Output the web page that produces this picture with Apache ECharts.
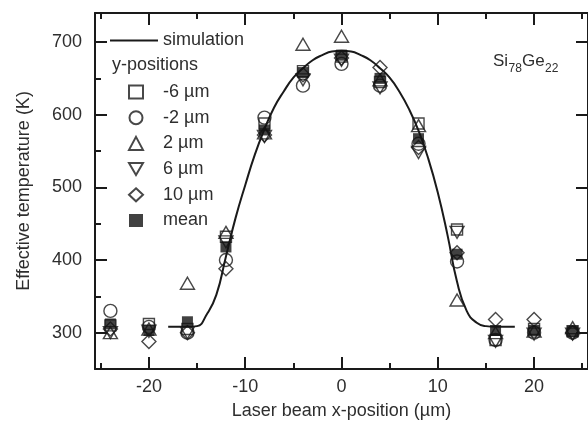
<!DOCTYPE html>
<html>
<head>
<meta charset="utf-8">
<script src="https://cdn.jsdelivr.net/npm/echarts@6/dist/echarts.min.js"></script>
<style>
  html, body { margin: 0; padding: 0; background: #fff; }
  #chart { width: 588px; height: 433px; }
</style>
</head>
<body>
<div id="chart"></div>
<script>
// measurement positions (µm)
const xPos = [-24, -20, -16, -12, -8, -4, 0, 4, 8, 12, 16, 20, 24]

// effective temperature (K) for each y-position
const yMinus6 = [310, 312, 305, 432, 588, 660, 680, 645, 588, 442, 290, 305, 302]
const yMinus2 = [330, 308, 300, 400, 596, 640, 670, 640, 560, 398, 290, 300, 300]
const yPlus2 = [300, 305, 368, 438, 575, 697, 708, 648, 585, 345, 300, 302, 307]
const yPlus6 = [300, 302, 300, 425, 570, 648, 675, 637, 548, 438, 288, 298, 298]
const yPlus10 = [305, 288, 300, 388, 572, 655, 678, 665, 555, 410, 318, 318, 300]
const yMean = [312, 303, 315, 418, 579, 658, 682, 650, 567, 408, 303, 303, 302]

// simulation curve
const simX = [-18, -16, -15, -14, -13, -12, -11, -10, -9, -8, -7, -6, -5, -4, -3, -2, -1, 0,
  1, 2, 3, 4, 5, 6, 7, 8, 9, 10, 11, 12, 13, 14, 15, 16, 18]
const simY = [308, 308, 309, 325, 352, 405, 458, 503, 545, 580, 610, 632, 651, 664, 675, 682, 687, 688,
  687, 682, 675, 664, 651, 632, 608, 578, 540, 493, 435, 370, 330, 314, 309, 308, 308]

const xMajor = [-20, -10, 0, 10, 20]
const xMinor = [-25, -15, -5, 5, 15, 25]
const yMajor = [300, 400, 500, 600, 700]
const yMinor = [350, 450, 550, 650]

const font = 'Liberation Sans'
const ink = '#1a1a1a'
const textColor = '#2e2e2e'

const chart = echarts.init(document.getElementById('chart'))

const pts = vals => xPos.map((x, i) => [x, vals[i]])
const openStyle = {
  color: 'rgba(255,255,255,0)',
  borderColor: ink,
  borderWidth: 1.4,
}
const tickLine = { color: ink, width: 2 }

const xBase = {
  type: 'value',
  min: -25.6,
  max: 25.6,
  splitLine: { show: false },
  axisLine: { show: false, onZero: false },
  axisLabel: { show: false },
}
const yBase = {
  type: 'value',
  min: 250,
  max: 740,
  splitLine: { show: false },
  axisLine: { show: false, onZero: false },
  axisLabel: { show: false },
}
const shownLine = { show: true, onZero: false, lineStyle: tickLine }

chart.setOption({
  animation: false,
  backgroundColor: '#fff',
  textStyle: { fontFamily: font },
  grid: { left: 95, right: -11, top: 13, bottom: 64 },
  xAxis: [
    {
      ...xBase,
      position: 'bottom',
      axisLine: shownLine,
      axisTick: { inside: true, length: 12, customValues: xMajor, lineStyle: tickLine },
      axisLabel: { show: true, customValues: xMajor, color: textColor, fontSize: 18, margin: 9 },
      name: 'Laser beam x-position (µm)',
      nameLocation: 'middle',
      nameGap: 33,
      nameTextStyle: { color: textColor, fontSize: 18 },
    },
    {
      ...xBase,
      position: 'bottom',
      axisTick: { inside: true, length: 6, customValues: xMinor, lineStyle: tickLine },
    },
    {
      ...xBase,
      position: 'top',
      axisLine: shownLine,
      axisTick: { inside: true, length: 12, customValues: xMajor, lineStyle: tickLine },
    },
    {
      ...xBase,
      position: 'top',
      axisTick: { inside: true, length: 6, customValues: xMinor, lineStyle: tickLine },
    },
  ],
  yAxis: [
    {
      ...yBase,
      position: 'left',
      axisLine: shownLine,
      axisTick: { inside: true, length: 12, customValues: yMajor, lineStyle: tickLine },
      axisLabel: { show: true, customValues: yMajor, color: textColor, fontSize: 18, margin: 13 },
      name: 'Effective temperature (K)',
      nameLocation: 'middle',
      nameGap: 62,
      nameTextStyle: { color: textColor, fontSize: 18 },
    },
    {
      ...yBase,
      position: 'left',
      axisTick: { inside: true, length: 6, customValues: yMinor, lineStyle: tickLine },
    },
    {
      ...yBase,
      position: 'right',
      axisLine: shownLine,
      axisTick: { inside: true, length: 12, customValues: yMajor, lineStyle: tickLine },
    },
  ],
  legend: [
    {
      data: [{ name: 'simulation', icon: 'path://M0,0H48V2H0Z' }],
      left: 110,
      top: 31.5,
      padding: 0,
      itemWidth: 48,
      itemHeight: 2,
      selectedMode: false,
      itemStyle: { color: ink },
      textStyle: { color: textColor, fontSize: 18 },
    },
    {
      data: ['-6 µm', '-2 µm', '2 µm', '6 µm', '10 µm', 'mean'],
      orient: 'vertical',
      left: 128,
      top: 83,
      padding: 0,
      itemWidth: 14,
      itemHeight: 13,
      itemGap: 7.7,
      selectedMode: false,
      formatter: name => '{g|}{t|' + name + '}',
      textStyle: {
        color: textColor,
        fontSize: 18,
        rich: {
          g: { width: 15 },
          t: { color: textColor, fontSize: 18, fontFamily: font },
        },
      },
    },
  ],
  graphic: [
    {
      type: 'text',
      left: 112,
      top: 56,
      style: { text: 'y-positions', fill: textColor, font: '18px "Liberation Sans"' },
    },
    {
      type: 'group',
      left: 493,
      top: 53,
      children: [
        { type: 'text', x: 0, y: 0, style: { text: 'Si', fill: textColor, font: '17px "Liberation Sans"' } },
        { type: 'text', x: 15.5, y: 10, style: { text: '78', fill: textColor, font: '12px "Liberation Sans"' } },
        { type: 'text', x: 29, y: 0, style: { text: 'Ge', fill: textColor, font: '17px "Liberation Sans"' } },
        { type: 'text', x: 52, y: 10, style: { text: '22', fill: textColor, font: '12px "Liberation Sans"' } },
      ],
    },
  ],
  series: [
    {
      name: 'simulation',
      type: 'line',
      smooth: true,
      symbol: 'none',
      data: simX.map((x, i) => [x, simY[i]]),
      lineStyle: { color: ink, width: 2 },
      itemStyle: { color: ink },
      z: 1,
    },
    { name: '-6 µm', type: 'scatter', symbol: 'rect', symbolSize: 11, data: pts(yMinus6), itemStyle: openStyle },
    { name: '-2 µm', type: 'scatter', symbol: 'circle', symbolSize: 13, data: pts(yMinus2), itemStyle: openStyle },
    { name: '2 µm', type: 'scatter', symbol: 'triangle', symbolSize: [14, 12], data: pts(yPlus2), itemStyle: openStyle },
    { name: '6 µm', type: 'scatter', symbol: 'path://M0,0 L14,0 L7,12 Z', symbolSize: [14, 12], data: pts(yPlus6), itemStyle: openStyle },
    { name: '10 µm', type: 'scatter', symbol: 'diamond', symbolSize: 14, data: pts(yPlus10), itemStyle: openStyle },
    { name: 'mean', type: 'scatter', symbol: 'rect', symbolSize: 11, data: pts(yMean), itemStyle: { color: '#111' } },
  ],
})
</script>
</body>
</html>
